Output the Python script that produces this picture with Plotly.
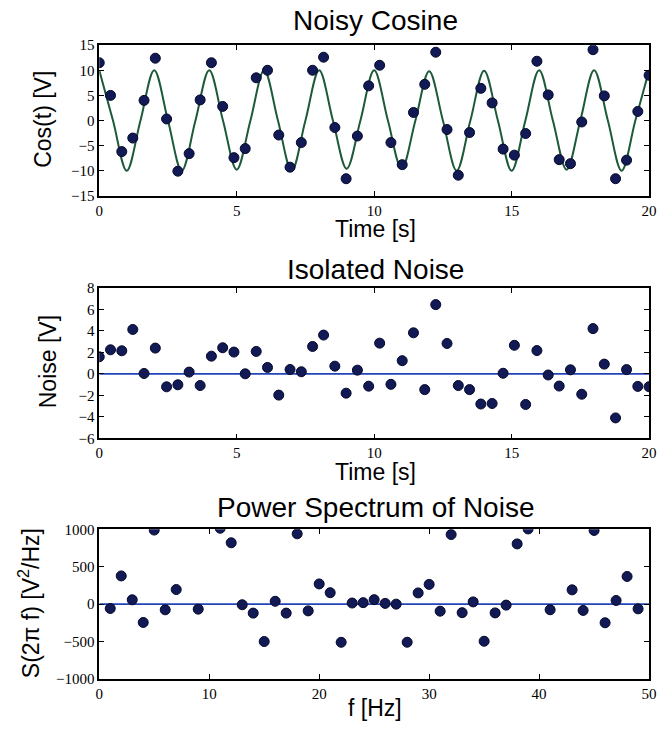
import plotly.graph_objects as go

# ---------------- data ----------------
time_s = [0.00, 0.41, 0.82, 1.22, 1.63, 2.04, 2.45, 2.86, 3.27, 3.67,
          4.08, 4.49, 4.90, 5.31, 5.71, 6.12, 6.53, 6.94, 7.35, 7.76,
          8.16, 8.57, 8.98, 9.39, 9.80, 10.20, 10.61, 11.02, 11.43, 11.84,
          12.24, 12.65, 13.06, 13.47, 13.88, 14.29, 14.69, 15.10, 15.51, 15.92,
          16.33, 16.73, 17.14, 17.55, 17.96, 18.37, 18.78, 19.18, 19.59, 20.00]

noisy_cos = [11.5, 5.0, -6.2, -3.5, 4.0, 12.4, 0.3, -10.1, -6.6, 4.1,
             11.5, 2.8, -7.4, -5.6, 8.5, 10.0, -2.9, -9.3, -4.4, 10.0,
             12.6, -1.4, -11.6, -3.1, 6.9, 11.0, -4.4, -8.8, 1.6, 7.2,
             13.6, -1.8, -10.9, -2.4, 6.4, 3.5, -5.7, -6.9, -2.6, 11.8,
             5.1, -7.8, -8.6, -0.3, 14.1, 4.9, -11.6, -7.9, 1.8, 9.0]

# smooth cosine curve: peaks / zero crossings / troughs read every 0.5 s
curve_t = [0.0, 0.5, 1.0, 1.5, 2.0, 2.5, 3.0, 3.5, 4.0, 4.5,
           5.0, 5.5, 6.0, 6.5, 7.0, 7.5, 8.0, 8.5, 9.0, 9.5,
           10.0, 10.5, 11.0, 11.5, 12.0, 12.5, 13.0, 13.5, 14.0, 14.5,
           15.0, 15.5, 16.0, 16.5, 17.0, 17.5, 18.0, 18.5, 19.0, 19.5, 20.0]
curve_v = [10, 0, -10, 0, 10, 0, -10, 0, 10, 0,
           -9.8, 0, 10, 0, -10, 0, 10, 0, -9.6, 0,
           10, 0, -9.6, 0, 9.8, 0, -10, 0, 9.9, 0,
           -10, 0, 10, 0, -9.8, 0, 10, 0, -10, 0, 10]

noise = [1.58, 2.23, 2.14, 4.12, 0.03, 2.39, -1.21, -1.02, 0.16, -1.09,
         1.64, 2.42, 2.02, 0.00, 2.08, 0.59, -1.98, 0.40, 0.19, 2.54,
         3.60, 0.71, -1.80, 0.34, -1.15, 2.85, -0.98, 1.22, 3.81, -1.47,
         6.43, 2.82, -1.09, -1.47, -2.81, -2.76, 0.05, 2.65, -2.85, 2.16,
         -0.11, -1.14, 0.37, -1.90, 4.20, 0.90, -4.10, 0.39, -1.17, -1.20]
noise_line_t = [0, 20]
noise_line_v = [0, 0]

freq_hz = [1, 2, 3, 4, 5, 6, 7, 9, 11, 12, 13, 14, 15, 16, 17, 18, 19, 20,
           21, 22, 23, 24, 25, 26, 27, 28, 29, 30, 31, 32, 33, 34, 35, 36,
           37, 38, 39, 41, 43, 44, 45, 46, 47, 48, 49]
power = [-58, 377, 58, -245, 990, -76, 195, -67, 1014, 820, -8, -120, -500,
         38, -120, 940, -90, 270, 153, -510, 15, 20, 60, 10, 0, -509, 150,
         264, -94, 930, -114, 30, -496, -117, -13, 805, 1005, -75, 191, -84,
         985, -249, 49, 370, -63]
spec_line_f = [0, 50]
spec_line_v = [0, 0]

# ---------------- styling ----------------
W, H = 662, 730
MARK = dict(color="#121a56", size=10, line=dict(color="#05082a", width=1))
TICKFONT = dict(family="Liberation Serif", size=15, color="black")
LABFONT = dict(family="Liberation Sans", size=23, color="black")
TITFONT = dict(family="Liberation Sans", size=28, color="black")

xl, xr = 97 / W, 657 / W
rows = [(38, 192), (286, 440), (533, 686)]
doms = [[1 - b / H, 1 - t / H] for t, b in rows]

fig = go.Figure()

fig.add_trace(go.Scatter(x=curve_t, y=curve_v, mode="lines",
                         line=dict(color="#1d5a3a", width=2, shape="spline", smoothing=1.0),
                         xaxis="x", yaxis="y", hoverinfo="skip"))
fig.add_trace(go.Scatter(x=time_s, y=noisy_cos, mode="markers", marker=MARK, xaxis="x", yaxis="y"))

fig.add_trace(go.Scatter(x=noise_line_t, y=noise_line_v, mode="lines", line=dict(color="#2244b8", width=1.8),
                         xaxis="x2", yaxis="y2"))
fig.add_trace(go.Scatter(x=time_s, y=noise, mode="markers", marker=MARK, xaxis="x2", yaxis="y2"))

fig.add_trace(go.Scatter(x=spec_line_f, y=spec_line_v, mode="lines", line=dict(color="#2244b8", width=1.8),
                         xaxis="x3", yaxis="y3"))
fig.add_trace(go.Scatter(x=freq_hz, y=power, mode="markers", marker=MARK, xaxis="x3", yaxis="y3"))


def axis(rng, dtick, dom, anchor):
    return dict(range=rng, dtick=dtick, tick0=rng[0], domain=dom, anchor=anchor,
                showline=True, linecolor="black", linewidth=1.6, mirror="allticks",
                ticks="inside", ticklen=5, tickwidth=1, tickcolor="black",
                showgrid=False, zeroline=False, tickfont=TICKFONT, fixedrange=True,
                ticklabeloverflow="allow")


fig.update_layout(
    xaxis=axis([0, 20], 5, [xl, xr], "y"),
    yaxis=axis([-15, 15], 5, doms[0], "x"),
    xaxis2=axis([0, 20], 5, [xl, xr], "y2"),
    yaxis2=axis([-6, 8], 2, doms[1], "x2"),
    xaxis3=axis([0, 50], 10, [xl, xr], "y3"),
    yaxis3=axis([-1000, 1000], 500, doms[2], "x3"),
)


def px_x(p):
    return p / W


def px_y(p):
    return 1 - p / H


anns = [
    ("Noisy Cosine", 378, 13, 0, TITFONT),
    ("Time [s]", 378, 226, 0, LABFONT),
    ("Cos(t) [V]", 39, 114, -90, LABFONT),
    ("Isolated Noise", 378, 267, 0, TITFONT),
    ("Time [s]", 378, 474, 0, LABFONT),
    ("Noise [V]", 45, 362, -90, LABFONT),
    ("Power Spectrum of Noise", 378, 511, 0, TITFONT),
    ("f [Hz]", 378, 716, 0, LABFONT),
    ("S(2π f) [V<sup>2</sup>/Hz]", 25, 609, -90, LABFONT),
]
fig.update_layout(annotations=[
    dict(text=t, x=px_x(x), y=px_y(y), xref="paper", yref="paper", showarrow=False,
         xanchor="center", yanchor="middle", textangle=a, font=f)
    for t, x, y, a, f in anns
])

fig.update_layout(width=W, height=H, margin=dict(l=0, r=0, t=0, b=0),
                  paper_bgcolor="white", plot_bgcolor="white", showlegend=False)

fig.write_html("out.html", config={"displayModeBar": False},
               post_script="document.body.style.margin='0';document.body.style.overflow='hidden';")
